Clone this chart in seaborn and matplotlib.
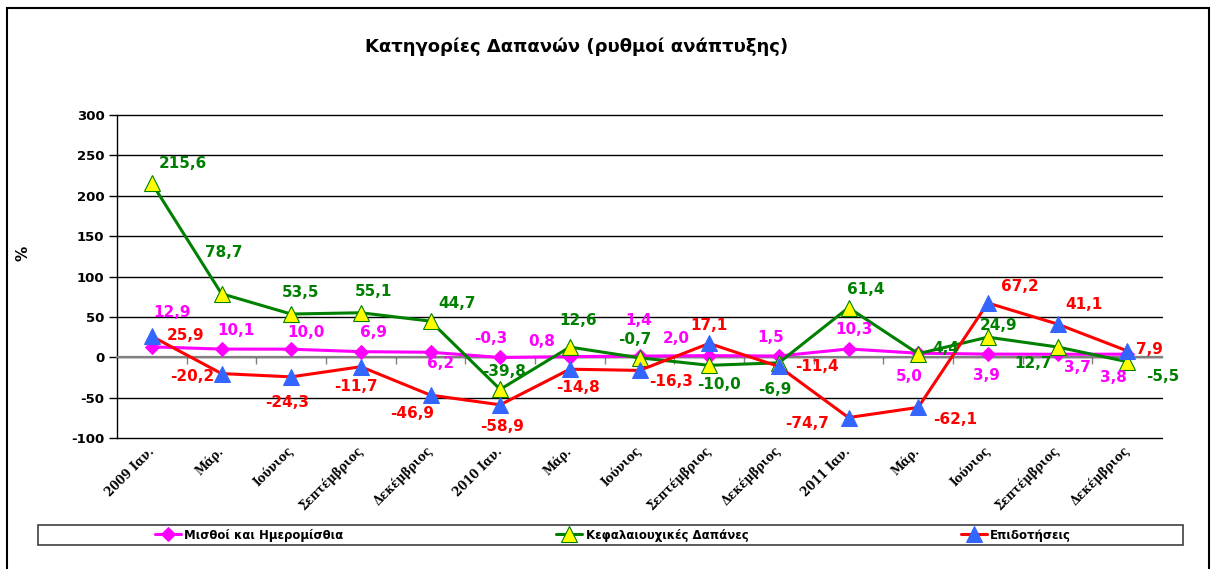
import numpy as np
import pandas as pd
import seaborn as sns
import matplotlib.pyplot as plt
from matplotlib.patches import Rectangle

# categories (x axis)
months = ['2009 Ιαν.', 'Μάρ.', 'Ιούνιος', 'Σεπτέμβριος', 'Δεκέμβριος',
          '2010 Ιαν.', 'Μάρ.', 'Ιούνιος', 'Σεπτέμβριος', 'Δεκέμβριος',
          '2011 Ιαν.', 'Μάρ.', 'Ιούνιος', 'Σεπτέμβριος', 'Δεκέμβριος']

# growth rates (%)
wages = [12.9, 10.1, 10.0, 6.9, 6.2, -0.3, 0.8, 1.4, 2.0, 1.5,
         10.3, 5.0, 3.9, 3.7, 3.8]
capital = [215.6, 78.7, 53.5, 55.1, 44.7, -39.8, 12.6, -0.7, -10.0, -6.9,
           61.4, 4.4, 24.9, 12.7, -5.5]
subsidies = [25.9, -20.2, -24.3, -11.7, -46.9, -58.9, -14.8, -16.3, 17.1,
             -11.4, -74.7, -62.1, 67.2, 41.1, 7.9]

series_names = ['Μισθοί και Ημερομίσθια', 'Κεφαλαιουχικές Δαπάνες',
                'Επιδοτήσεις']

# label offsets in pixels (dx right, dy down) - style only
wage_off = [(20, -34), (14, -19), (15, -17), (13, -19), (10, 11), (-9, -19),
            (-28, -15), (-1, -36), (-33, -17), (-8, -19), (5, -19), (-9, 23),
            (-1, 21), (20, 13), (-14, 23)]
cap_off = [(31, -20), (2, -41), (9, -22), (13, -21), (27, -18), (4, -18),
           (8, -27), (-5, -18), (10, 19), (-4, 27), (17, -18), (28, -5),
           (11, -12), (-24, 17), (36, 15)]
sub_off = [(34, -1), (-29, 3), (-4, 26), (-5, 20), (-18, 18), (2, 22),
           (8, 18), (32, 11), (0, -18), (38, 0), (-41, 6), (37, 12),
           (32, -16), (26, -20), (22, -1)]

sns.set_style('white')
plt.rcParams['font.family'] = ['DejaVu Sans']
plt.rcParams['text.color'] = 'black'
plt.rcParams['axes.labelcolor'] = 'black'
plt.rcParams['xtick.color'] = 'black'
plt.rcParams['ytick.color'] = 'black'
plt.rcParams['axes.unicode_minus'] = False

fig = plt.figure(figsize=(12.12, 5.69), dpi=100)
ax = fig.add_axes([117 / 1212, 1 - 438 / 569, 1045 / 1212, 323 / 569])

pos = np.arange(len(months))

# magenta diamonds
sns.lineplot(x=pos, y=wages, ax=ax, color='#FF00FF', linewidth=2.2,
             marker='D', markersize=7, markerfacecolor='#FF00FF',
             markeredgecolor='#FF00FF', label=series_names[0], zorder=3)
# green line with yellow triangles
sns.lineplot(x=pos, y=capital, ax=ax, color='#008000', linewidth=2.2,
             marker='^', markersize=11, markerfacecolor='#FFFF00',
             markeredgecolor='#008000', markeredgewidth=0.8,
             label=series_names[1], zorder=4)
# red line with blue triangles
sns.lineplot(x=pos, y=subsidies, ax=ax, color='#FF0000', linewidth=2.2,
             marker='^', markersize=11, markerfacecolor='#3366FF',
             markeredgecolor='#3366FF', label=series_names[2], zorder=5)


def put_labels(vals, offs, col):
    for i, v in enumerate(vals):
        txt = f'{v:.1f}'.replace('.', ',')
        ax.annotate(txt, (pos[i], v), xytext=(offs[i][0], -offs[i][1]),
                    textcoords='offset pixels', ha='center', va='center',
                    fontsize=11, fontweight='bold', color=col, zorder=6)


put_labels(wages, wage_off, '#FF00FF')
put_labels(capital, cap_off, '#008000')
put_labels(subsidies, sub_off, '#FF0000')

# axes styling
ax.set_xlim(-0.5, len(months) - 0.5)
ax.set_ylim(-100, 300)
ax.set_yticks(np.arange(-100, 301, 50))
ax.yaxis.grid(True, color='black', linewidth=1)
ax.set_axisbelow(True)
for gl in ax.get_ygridlines():
    gl.set_clip_on(False)
for s in ['top', 'right']:
    ax.spines[s].set_visible(False)
ax.spines['left'].set_color('black')
ax.spines['left'].set_linewidth(1)
ax.spines['bottom'].set_position(('data', 0))
ax.spines['bottom'].set_color('#808080')
ax.spines['bottom'].set_linewidth(1.6)
ax.spines['bottom'].set_zorder(2.5)

ax.set_xticks(pos)
ax.set_xticklabels(months, rotation=45, ha='right', va='center',
                   rotation_mode='anchor', fontsize=8.5, fontweight='bold',
                   family='DejaVu Serif')
ax.set_xticks(pos[:-1] + 0.5, minor=True)
ax.tick_params(axis='x', which='major', length=0, pad=66)
ax.tick_params(axis='x', which='minor', length=5, width=1, color='#808080',
               direction='out', bottom=True)
ax.tick_params(axis='y', length=6, width=1, color='black', direction='out',
               left=True, labelsize=9.5, pad=3)
for lab in ax.get_yticklabels():
    lab.set_fontweight('bold')
ax.set_xlabel('')
ax.set_ylabel('%', fontsize=11, fontweight='bold')
ax.yaxis.set_label_coords((30 - 117) / 1045, (438 - 253) / 323)

# title
fig.text(577 / 1212, 1 - 47 / 569, 'Κατηγορίες Δαπανών (ρυθμοί ανάπτυξης)',
         ha='center', va='center', fontsize=13, fontweight='bold')

# legend
handles, labels = ax.get_legend_handles_labels()
ax.get_legend().remove()
fig.legend(handles, labels, loc='center', ncol=3, frameon=False,
           bbox_to_anchor=(613 / 1212, 1 - 535 / 569),
           prop={'weight': 'bold', 'size': 8.5}, columnspacing=18,
           handlelength=2.2, handletextpad=0.3)
fig.patches.append(Rectangle((38 / 1212, 1 - 545 / 569), 1145 / 1212,
                             20 / 569, transform=fig.transFigure,
                             fill=False, edgecolor='#404040', linewidth=1.2))
# outer chart border
fig.patches.append(Rectangle((7 / 1212, -0.05), 1202 / 1212,
                             1.05 - 8 / 569, transform=fig.transFigure,
                             fill=False, edgecolor='black', linewidth=1.5))

fig.savefig('out.png', dpi=100)
